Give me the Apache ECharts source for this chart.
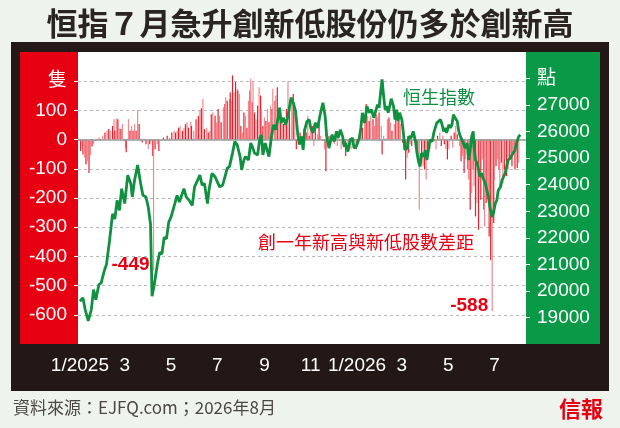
<!DOCTYPE html>
<html>
<head>
<meta charset="utf-8">
<script src="https://cdn.jsdelivr.net/npm/echarts@6/dist/echarts.min.js"></script>
<style>
html, body { margin: 0; padding: 0; background: #eef3ed; }
#chart { width: 620px; height: 428px; }
</style>
</head>
<body>
<div id="chart"></div>
<script>
// axis range (calendar days on the x axis)
var firstDay = '2024-12-30';
var lastDay = '2026-08-11';

var leftTicks = [200, 100, 0, -100, -200, -300, -400, -500, -600];
var rightTicks = [28000, 27000, 26000, 25000, 24000, 23000, 22000, 21000, 20000, 19000];

// 恒生指數 (點)
var hsiPoints = [
    ['2025-01-01', 19610], ['2025-01-05', 19740], ['2025-01-08', 19290], ['2025-01-12', 18870],
    ['2025-01-16', 19290], ['2025-01-19', 20050], ['2025-01-22', 19670], ['2025-01-26', 20240],
    ['2025-01-29', 20300], ['2025-02-02', 20750], ['2025-02-05', 21000], ['2025-02-09', 21890],
    ['2025-02-13', 22900], ['2025-02-16', 22710], ['2025-02-19', 23410], ['2025-02-22', 23030],
    ['2025-02-25', 23850], ['2025-03-01', 23290], ['2025-03-05', 24360], ['2025-03-09', 24050],
    ['2025-03-11', 23540], ['2025-03-14', 24170], ['2025-03-18', 24740], ['2025-03-22', 24050],
    ['2025-03-25', 23600], ['2025-03-29', 23540], ['2025-04-01', 23160], ['2025-04-04', 22520],
    ['2025-04-06', 19800], ['2025-04-09', 20240], ['2025-04-13', 21000], ['2025-04-16', 21450],
    ['2025-04-19', 21390], ['2025-04-22', 22020], ['2025-04-25', 21960], ['2025-04-28', 22590],
    ['2025-05-01', 22780], ['2025-05-06', 23290], ['2025-05-09', 23600], ['2025-05-12', 23350],
    ['2025-05-18', 23850], ['2025-05-21', 23540], ['2025-05-25', 23410], ['2025-05-29', 23220],
    ['2025-06-01', 23920], ['2025-06-04', 24110], ['2025-06-08', 24360], ['2025-06-11', 23980],
    ['2025-06-14', 24050], ['2025-06-18', 23290], ['2025-06-20', 23790], ['2025-06-24', 24430],
    ['2025-06-28', 24300], ['2025-07-01', 24110], ['2025-07-04', 23920], ['2025-07-08', 23980],
    ['2025-07-11', 24300], ['2025-07-14', 24620], ['2025-07-17', 24680], ['2025-07-21', 25190],
    ['2025-07-24', 25630], ['2025-07-27', 25510], ['2025-07-31', 25060], ['2025-08-02', 24560],
    ['2025-08-05', 24930], ['2025-08-07', 25060], ['2025-08-11', 24930], ['2025-08-14', 25570],
    ['2025-08-16', 25440], ['2025-08-19', 25190], ['2025-08-23', 25120], ['2025-08-26', 25760],
    ['2025-08-28', 25880], ['2025-08-30', 25120], ['2025-09-02', 25570], ['2025-09-04', 25630],
    ['2025-09-07', 25060], ['2025-09-10', 25760], ['2025-09-13', 26260], ['2025-09-16', 26070],
    ['2025-09-19', 26520], ['2025-09-21', 26900], ['2025-09-23', 26330], ['2025-09-26', 26520],
    ['2025-09-29', 26260], ['2025-10-02', 26580], ['2025-10-06', 27280], ['2025-10-09', 27090],
    ['2025-10-12', 26770], ['2025-10-15', 25880], ['2025-10-17', 25510], ['2025-10-20', 25820],
    ['2025-10-22', 25310], ['2025-10-24', 26070], ['2025-10-27', 26390], ['2025-10-30', 26450],
    ['2025-11-01', 26140], ['2025-11-04', 25950], ['2025-11-07', 26330], ['2025-11-10', 26140],
    ['2025-11-13', 26580], ['2025-11-17', 27090], ['2025-11-20', 26580], ['2025-11-22', 25820],
    ['2025-11-25', 25380], ['2025-11-29', 25880], ['2025-12-02', 25630], ['2025-12-05', 26010],
    ['2025-12-07', 25760], ['2025-12-10', 26070], ['2025-12-13', 25820], ['2025-12-15', 25440],
    ['2025-12-17', 25570], ['2025-12-20', 25250], ['2025-12-23', 25690], ['2025-12-26', 25760],
    ['2025-12-28', 25380], ['2025-12-31', 25440], ['2026-01-04', 25760], ['2026-01-06', 26140],
    ['2026-01-08', 26710], ['2026-01-11', 26330], ['2026-01-14', 26960], ['2026-01-17', 26710],
    ['2026-01-20', 26830], ['2026-01-23', 26520], ['2026-01-25', 26580], ['2026-01-28', 27020],
    ['2026-01-30', 26900], ['2026-02-01', 27470], ['2026-02-03', 27970], ['2026-02-05', 27340],
    ['2026-02-07', 26830], ['2026-02-09', 26960], ['2026-02-11', 26710], ['2026-02-13', 26960],
    ['2026-02-15', 27240], ['2026-02-18', 26960], ['2026-02-20', 26450], ['2026-02-22', 26830],
    ['2026-02-24', 26390], ['2026-02-26', 26710], ['2026-03-01', 26450], ['2026-03-03', 25950],
    ['2026-03-05', 25310], ['2026-03-08', 25380], ['2026-03-10', 25820], ['2026-03-13', 25760],
    ['2026-03-16', 26010], ['2026-03-19', 25630], ['2026-03-21', 25190], ['2026-03-23', 24870],
    ['2026-03-25', 24680], ['2026-03-27', 25190], ['2026-03-30', 25060], ['2026-04-01', 25310],
    ['2026-04-03', 24930], ['2026-04-05', 25310], ['2026-04-07', 25690], ['2026-04-10', 25630],
    ['2026-04-12', 25950], ['2026-04-14', 25880], ['2026-04-16', 26330], ['2026-04-18', 26260],
    ['2026-04-21', 26450], ['2026-04-23', 26260], ['2026-04-25', 26010], ['2026-04-27', 26140],
    ['2026-04-29', 25950], ['2026-05-02', 26260], ['2026-05-04', 26140], ['2026-05-06', 26260],
    ['2026-05-08', 26640], ['2026-05-10', 26520], ['2026-05-13', 26390], ['2026-05-15', 26010],
    ['2026-05-17', 25820], ['2026-05-19', 25760], ['2026-05-21', 25570], ['2026-05-23', 25380],
    ['2026-05-26', 25570], ['2026-05-28', 24930], ['2026-05-30', 25310], ['2026-06-01', 25820],
    ['2026-06-03', 26010], ['2026-06-04', 25440], ['2026-06-06', 24930], ['2026-06-08', 24810],
    ['2026-06-10', 24560], ['2026-06-12', 24300], ['2026-06-14', 24430], ['2026-06-17', 24170],
    ['2026-06-19', 24050], ['2026-06-21', 23790], ['2026-06-23', 23540], ['2026-06-25', 23160],
    ['2026-06-28', 22780], ['2026-06-30', 22970], ['2026-07-02', 23290], ['2026-07-04', 23410],
    ['2026-07-06', 23790], ['2026-07-09', 23920], ['2026-07-11', 24170], ['2026-07-13', 24300],
    ['2026-07-15', 24430], ['2026-07-17', 24680], ['2026-07-19', 24930], ['2026-07-22', 25000],
    ['2026-07-24', 25120], ['2026-07-26', 25060], ['2026-07-28', 25310], ['2026-07-30', 25570],
    ['2026-08-02', 25820], ['2026-08-04', 25880]
];

// 創一年新高與新低股數差距 (隻)
var diffPoints = [
    ['2025-01-02', -39], ['2025-01-04', -28], ['2025-01-05', -51], ['2025-01-07', -62],
    ['2025-01-09', -85], ['2025-01-11', -74], ['2025-01-13', -114], ['2025-01-15', -54],
    ['2025-01-17', -24], ['2025-01-19', -16], ['2025-01-22', -5], ['2025-01-26', 7],
    ['2025-01-28', -5], ['2025-01-31', 13], ['2025-02-03', 24], ['2025-02-06', 30],
    ['2025-02-08', 36], ['2025-02-10', 30], ['2025-02-13', 47], ['2025-02-15', 70],
    ['2025-02-16', 30], ['2025-02-18', 72], ['2025-02-20', 70], ['2025-02-22', 38],
    ['2025-02-24', 36], ['2025-02-26', 53], ['2025-02-28', -5], ['2025-03-02', -28],
    ['2025-03-03', -43], ['2025-03-06', 70], ['2025-03-08', 30], ['2025-03-10', 47],
    ['2025-03-12', 30], ['2025-03-14', 53], ['2025-03-16', 30], ['2025-03-18', 101],
    ['2025-03-20', 53], ['2025-03-22', -5], ['2025-03-24', -10], ['2025-03-26', 3],
    ['2025-03-29', -16], ['2025-04-01', -33], ['2025-04-03', -16], ['2025-04-05', -5],
    ['2025-04-07', -56], ['2025-04-08', -449], ['2025-04-10', -33], ['2025-04-13', -16],
    ['2025-04-15', -39], ['2025-04-18', -5], ['2025-04-21', 7], ['2025-04-23', -5],
    ['2025-04-26', 13], ['2025-04-29', 7], ['2025-05-02', 24], ['2025-05-05', 30],
    ['2025-05-07', 24], ['2025-05-09', 30], ['2025-05-11', 41], ['2025-05-13', 47],
    ['2025-05-16', 30], ['2025-05-18', 41], ['2025-05-20', 53], ['2025-05-22', 59],
    ['2025-05-24', 41], ['2025-05-27', 61], ['2025-05-28', 47], ['2025-05-31', 30],
    ['2025-06-03', 70], ['2025-06-04', 59], ['2025-06-06', 82], ['2025-06-08', 99],
    ['2025-06-10', 107], ['2025-06-12', 139], ['2025-06-14', 36], ['2025-06-17', 41],
    ['2025-06-19', 24], ['2025-06-21', 30], ['2025-06-23', 87], ['2025-06-25', 93],
    ['2025-06-28', 82], ['2025-06-30', 59], ['2025-07-02', 105], ['2025-07-04', 82],
    ['2025-07-06', 59], ['2025-07-09', 110], ['2025-07-11', 122], ['2025-07-12', 145],
    ['2025-07-14', 133], ['2025-07-17', 139], ['2025-07-18', 162], ['2025-07-20', 133],
    ['2025-07-21', 220], ['2025-07-23', 162], ['2025-07-25', 197], ['2025-07-27', 174],
    ['2025-07-28', 168], ['2025-07-30', 156], ['2025-08-01', 47], ['2025-08-03', 24],
    ['2025-08-05', 93], ['2025-08-07', 82], ['2025-08-09', 41], ['2025-08-11', 133],
    ['2025-08-13', 168], ['2025-08-14', 208], ['2025-08-16', 128], ['2025-08-17', 197],
    ['2025-08-19', 93], ['2025-08-21', 70], ['2025-08-23', 116], ['2025-08-25', 179],
    ['2025-08-27', 151], ['2025-08-28', 105], ['2025-08-30', 47], ['2025-09-01', 76],
    ['2025-09-03', 64], ['2025-09-05', 105], ['2025-09-07', 59], ['2025-09-09', 116],
    ['2025-09-11', 105], ['2025-09-12', 174], ['2025-09-15', 133], ['2025-09-16', 151],
    ['2025-09-18', 179], ['2025-09-20', 70], ['2025-09-22', 59], ['2025-09-24', 76],
    ['2025-09-26', 53], ['2025-09-28', 70], ['2025-09-30', 105], ['2025-10-02', 199],
    ['2025-10-04', 116], ['2025-10-07', 133], ['2025-10-09', 156], ['2025-10-11', 93],
    ['2025-10-13', -33], ['2025-10-15', 13], ['2025-10-18', 24], ['2025-10-20', -10],
    ['2025-10-23', 36], ['2025-10-24', 47], ['2025-10-26', 24], ['2025-10-28', 82],
    ['2025-10-30', 13], ['2025-11-01', 36], ['2025-11-03', 47], ['2025-11-05', -22],
    ['2025-11-07', 41], ['2025-11-10', 18], ['2025-11-12', 53], ['2025-11-14', 13],
    ['2025-11-17', -5], ['2025-11-19', -33], ['2025-11-21', -108], ['2025-11-23', -10],
    ['2025-11-25', 13], ['2025-11-28', -5], ['2025-11-30', 18], ['2025-12-02', -16],
    ['2025-12-04', 7], ['2025-12-06', -22], ['2025-12-09', -5], ['2025-12-11', -33],
    ['2025-12-13', -16], ['2025-12-15', -28], ['2025-12-17', -56], ['2025-12-20', -16],
    ['2025-12-22', 3], ['2025-12-24', -33], ['2025-12-26', -10], ['2025-12-28', -5],
    ['2025-12-31', -33], ['2026-01-02', -5], ['2026-01-04', 13], ['2026-01-06', 59],
    ['2026-01-08', 41], ['2026-01-11', 70], ['2026-01-13', 122], ['2026-01-15', 82],
    ['2026-01-17', 64], ['2026-01-19', 82], ['2026-01-22', 70], ['2026-01-24', 47],
    ['2026-01-26', 87], ['2026-01-28', 76], ['2026-01-30', 93], ['2026-02-02', 47],
    ['2026-02-03', -51], ['2026-02-05', 13], ['2026-02-08', 3], ['2026-02-10', 70],
    ['2026-02-12', 76], ['2026-02-14', 59], ['2026-02-16', 30], ['2026-02-19', 53],
    ['2026-02-21', 70], ['2026-02-23', 59], ['2026-02-25', 64], ['2026-02-27', 53],
    ['2026-03-02', -10], ['2026-03-04', -33], ['2026-03-06', -137], ['2026-03-08', -62],
    ['2026-03-10', -45], ['2026-03-12', -16], ['2026-03-14', -22], ['2026-03-17', -5],
    ['2026-03-18', -10], ['2026-03-20', -45], ['2026-03-22', -56], ['2026-03-24', -240],
    ['2026-03-27', -79], ['2026-03-29', -91], ['2026-03-31', -102], ['2026-04-02', -137],
    ['2026-04-04', -56], ['2026-04-07', -33], ['2026-04-09', -10], ['2026-04-11', 13],
    ['2026-04-13', -5], ['2026-04-15', -33], ['2026-04-17', 13], ['2026-04-20', 24],
    ['2026-04-22', -22], ['2026-04-24', 13], ['2026-04-26', -16], ['2026-04-28', -33],
    ['2026-04-30', -68], ['2026-05-02', -33], ['2026-05-05', 13], ['2026-05-07', -28],
    ['2026-05-09', 24], ['2026-05-11', 47], ['2026-05-13', 18], ['2026-05-16', -22],
    ['2026-05-18', -74], ['2026-05-20', -56], ['2026-05-22', -114], ['2026-05-24', -68],
    ['2026-05-27', -102], ['2026-05-28', -137], ['2026-05-30', -240], ['2026-06-01', -183],
    ['2026-06-03', -102], ['2026-06-04', -160], ['2026-06-06', -263], ['2026-06-08', -217],
    ['2026-06-10', -309], ['2026-06-11', -137], ['2026-06-13', -206], ['2026-06-15', -68],
    ['2026-06-17', -240], ['2026-06-18', -298], ['2026-06-20', -217], ['2026-06-22', -194],
    ['2026-06-24', -332], ['2026-06-25', -286], ['2026-06-26', -413], ['2026-06-28', -588],
    ['2026-06-30', -286], ['2026-07-01', -137], ['2026-07-03', -91], ['2026-07-05', -68],
    ['2026-07-07', -102], ['2026-07-08', -160], ['2026-07-10', -79], ['2026-07-12', -148],
    ['2026-07-14', -102], ['2026-07-15', -68], ['2026-07-17', -125], ['2026-07-19', -102],
    ['2026-07-21', -68], ['2026-07-22', -45], ['2026-07-24', -91], ['2026-07-26', -33],
    ['2026-07-28', -102], ['2026-07-29', -68], ['2026-07-31', -97], ['2026-08-02', -79]
];

// the two extremes written on the chart
var callouts = [['2025-04-08', -449], ['2026-06-28', -588]];

function buildDays(from, to) {
    var out = [];
    var d = new Date(from + 'T00:00:00Z');
    var end = new Date(to + 'T00:00:00Z');
    while (d <= end) {
        out.push(d.toISOString().slice(0, 10));
        d.setUTCDate(d.getUTCDate() + 1);
    }
    return out;
}

var days = buildDays(firstDay, lastDay);
var numFont = 'Liberation Sans, Arial, Noto Sans CJK TC';
var cjkFont = 'Noto Sans CJK TC';

function isMonthStart(i, v) {
    return v.slice(8) === '01';
}

var option = {
    backgroundColor: '#eef3ed',
    animation: false,
    grid: {
        left: 78, right: 94, top: 52, bottom: 84,
        show: true, backgroundColor: '#ffffff', borderWidth: 0
    },
    graphic: [
        {type: 'rect', z: -10, shape: {x: 11, y: 42, width: 598, height: 349}, style: {fill: '#231815'}},
        {type: 'rect', z: -9, shape: {x: 20, y: 52, width: 58, height: 292}, style: {fill: '#e60012'}},
        {type: 'rect', z: -9, shape: {x: 526, y: 52, width: 74, height: 292}, style: {fill: '#0a9a47'}},
        {
            type: 'text', z: 100, left: 'center', top: 8,
            style: {text: '恒指７月急升創新低股份仍多於創新高', fill: '#2a2523', font: 'bold 31px ' + cjkFont}
        },
        {
            type: 'text', z: 100, x: 403, y: 97,
            style: {text: '恒生指數', fill: '#0e9140', font: '18px ' + cjkFont, verticalAlign: 'middle'}
        },
        {
            type: 'text', z: 100, x: 258, y: 242,
            style: {text: '創一年新高與新低股數差距', fill: '#e60012', font: '18px ' + cjkFont, verticalAlign: 'middle'}
        },
        {
            type: 'text', z: 100, x: 13, y: 408,
            style: {text: '資料來源：EJFQ.com；2026年8月', fill: '#4a4745', font: '17px ' + cjkFont, verticalAlign: 'middle'}
        },
        {
            type: 'text', z: 100, x: 581, y: 409,
            style: {text: '信報', fill: '#e50012', font: 'bold 22px ' + cjkFont, align: 'center', verticalAlign: 'middle'}
        }
    ],
    xAxis: {
        type: 'category',
        data: days,
        boundaryGap: true,
        axisLine: {show: false},
        axisTick: {
            show: true, alignWithLabel: true, interval: isMonthStart, length: 4,
            lineStyle: {color: '#ffffff', width: 1}
        },
        axisLabel: {
            interval: function (i, v) {
                return v.slice(8) === '01' && (+v.slice(5, 7)) % 2 === 1;
            },
            formatter: function (v) {
                var m = +v.slice(5, 7);
                return m === 1 ? '1/' + v.slice(0, 4) : String(m);
            },
            color: '#ffffff', fontSize: 19, fontFamily: numFont, margin: 12
        },
        splitLine: {show: false}
    },
    yAxis: [
        {
            type: 'value', position: 'left',
            min: -700, max: 300, interval: 100,
            axisLine: {show: false},
            axisTick: {show: true, length: 4, customValues: leftTicks, lineStyle: {color: '#ffffff'}},
            axisLabel: {
                customValues: leftTicks,
                color: '#ffffff', fontSize: 19, fontFamily: numFont, margin: 11,
                formatter: function (v) {
                    if (v === 200) return '隻';
                    if (v >= 300 || v <= -700) return '';
                    return String(v);
                }
            },
            splitLine: {show: true, lineStyle: {color: '#b9b9b9', width: 1, type: [3, 3]}}
        },
        {
            type: 'value', position: 'right',
            min: 18000, max: 29000, interval: 1000,
            axisLine: {show: false},
            axisTick: {show: true, length: 4, customValues: rightTicks, lineStyle: {color: '#ffffff'}},
            axisLabel: {
                customValues: rightTicks,
                color: '#ffffff', fontSize: 19, fontFamily: numFont, margin: 11,
                formatter: function (v) {
                    if (v === 28000) return '點';
                    if (v >= 29000 || v <= 18000) return '';
                    return String(v);
                }
            },
            splitLine: {show: false}
        }
    ],
    series: [
        {
            name: '創一年新高與新低股數差距',
            type: 'bar',
            yAxisIndex: 0,
            barWidth: 1.2,
            data: diffPoints,
            itemStyle: {
                color: function (p) {
                    return p.dataIndex % 2 ? '#f28a90' : '#e8202d';
                }
            },
            markLine: {
                silent: true,
                symbol: 'none',
                label: {show: false},
                lineStyle: {color: '#9c9c9c', width: 1.5, type: 'solid'},
                data: [{yAxis: 0}]
            }
        },
        {
            name: '恒生指數',
            type: 'line',
            yAxisIndex: 1,
            data: hsiPoints,
            showSymbol: false,
            lineStyle: {color: '#0f9140', width: 2.8},
            z: 5
        },
        {
            type: 'scatter',
            yAxisIndex: 0,
            data: callouts,
            symbolSize: 0,
            z: 6,
            itemStyle: {opacity: 1},
            label: {
                show: true, position: 'left', distance: 4, offset: [0, -6],
                formatter: function (p) { return String(p.value[1]); },
                color: '#e60012', fontSize: 19, fontWeight: 'bold', fontFamily: numFont
            }
        }
    ]
};

var myChart = echarts.init(document.getElementById('chart'));
myChart.setOption(option);
</script>
</body>
</html>
